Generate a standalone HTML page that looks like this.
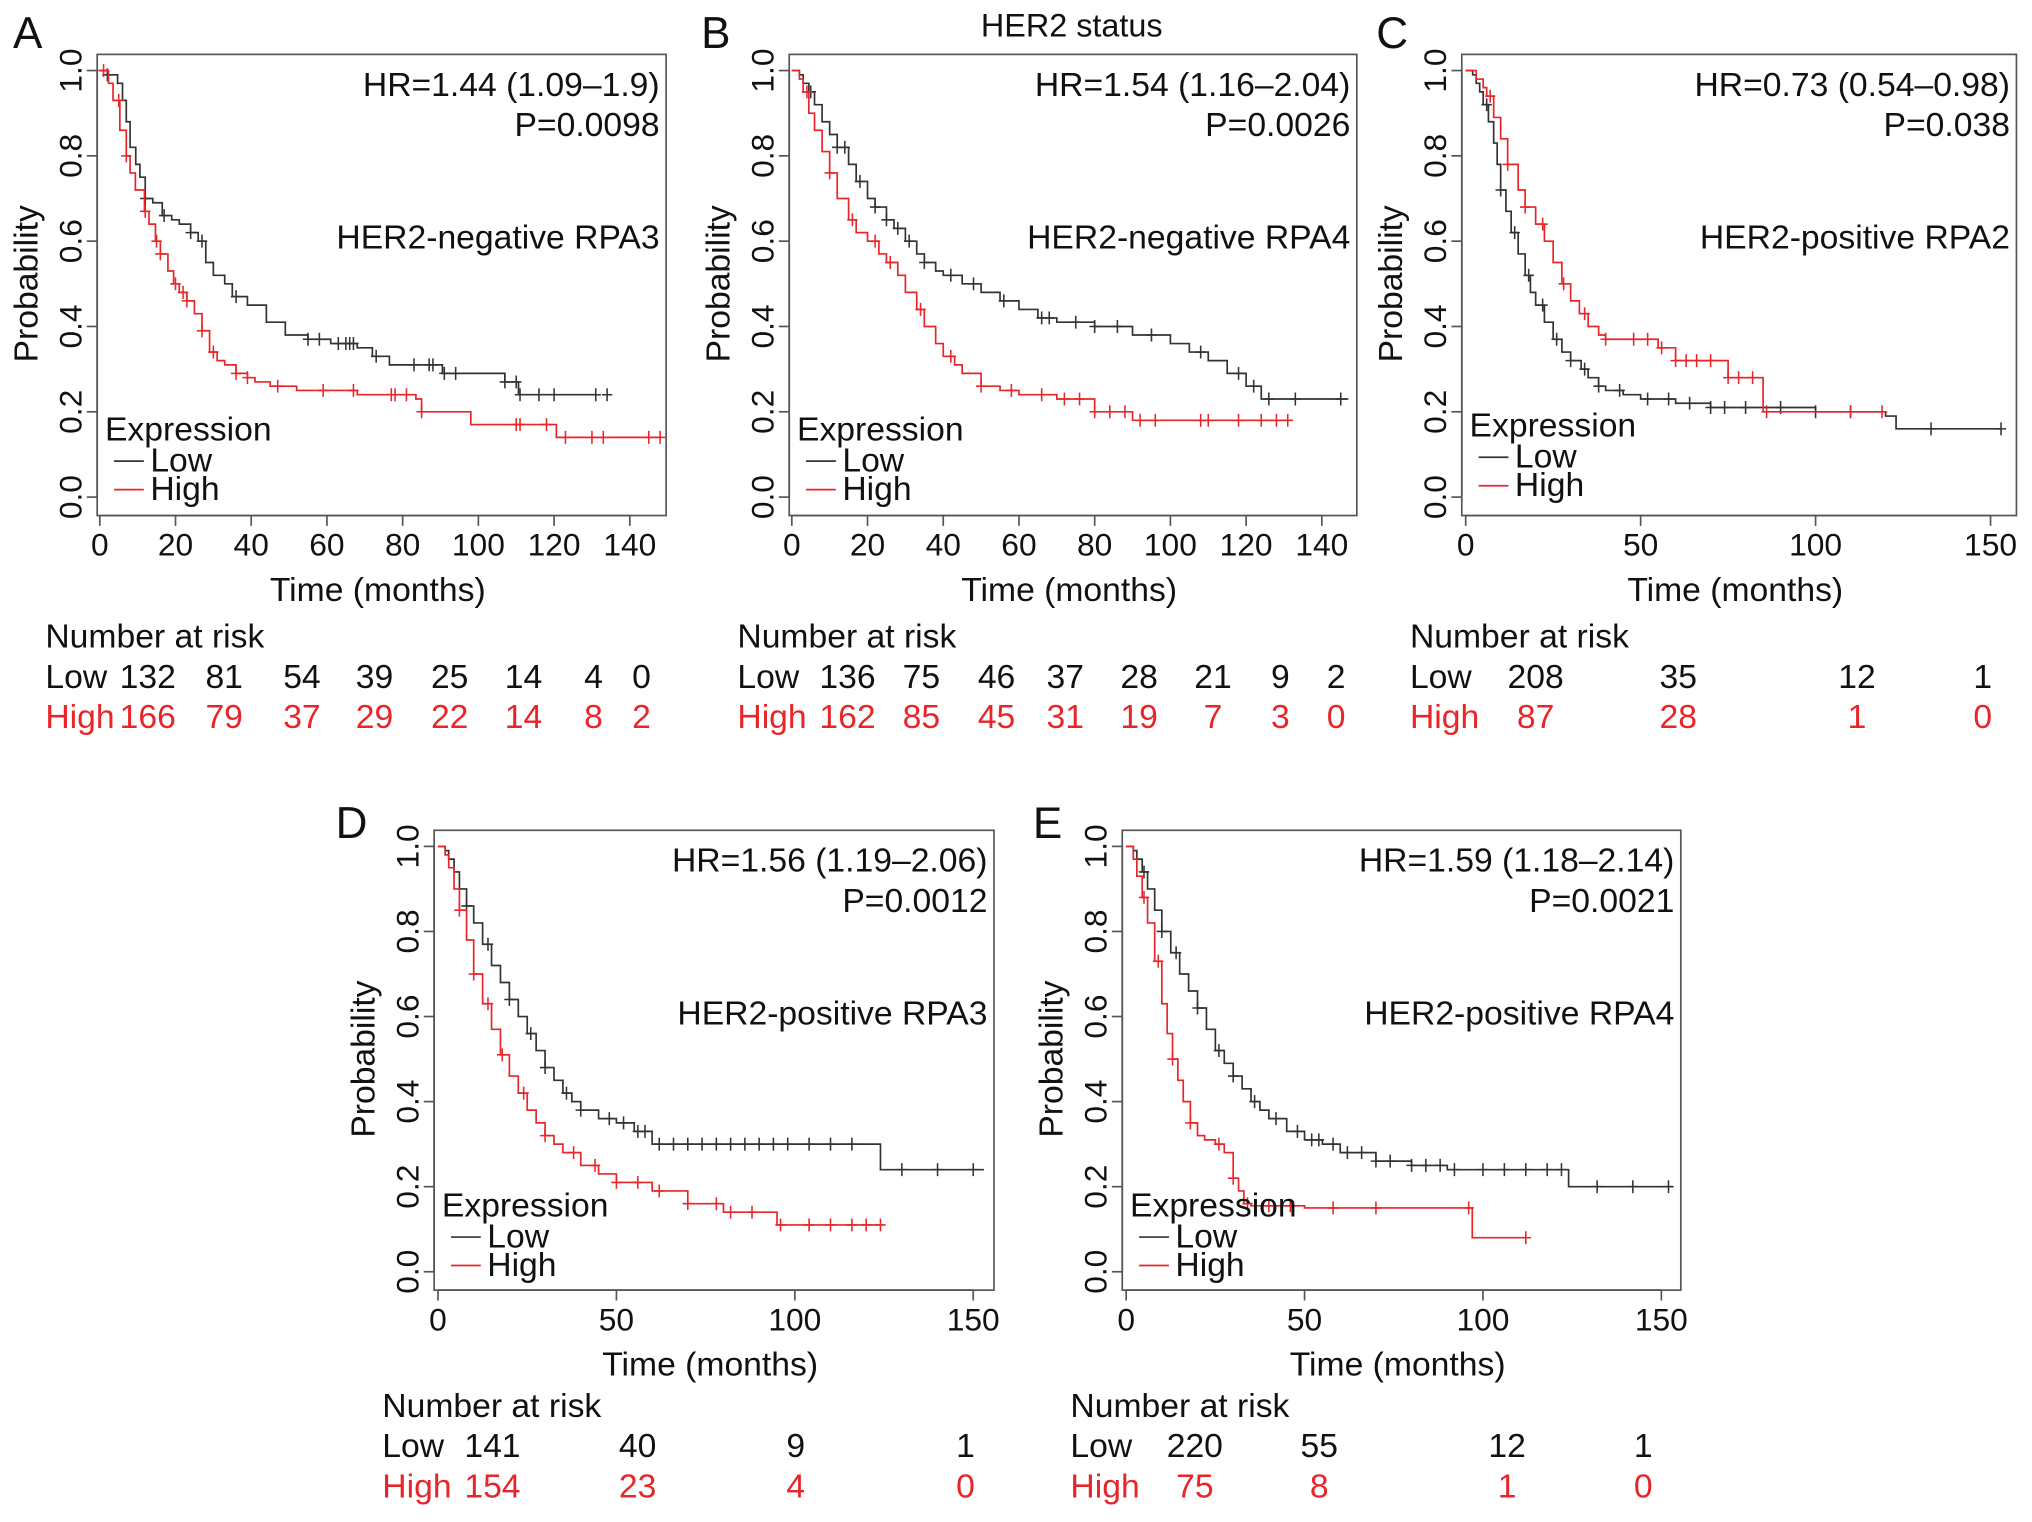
<!DOCTYPE html>
<html><head><meta charset="utf-8"><style>
html,body{margin:0;padding:0;background:#fff}
svg{display:block}
text{font-family:"Liberation Sans",Arial,sans-serif;fill:#111}
</style></head><body>
<svg id="fig" xmlns="http://www.w3.org/2000/svg" width="2032" height="1522" viewBox="0 0 1568 1175" preserveAspectRatio="none">
<text x="827" y="28" font-size="25" text-anchor="middle">HER2 status</text>
</svg>
<script>
// ---- data ----
const aLowT=[0,2,4.7,6,7,8,9.5,10.6,12,14,16.5,19,21,24,26,28,30,33,35,39,44,49,55,61,68,72,76.5,90.5,103.5,107,110.6,131];
const aLowS=[1,.99,.97,.93,.88,.82,.78,.75,.7,.69,.66,.65,.64,.62,.6,.55,.52,.5,.47,.45,.41,.38,.37,.36,.35,.33,.31,.29,.29,.27,.24,.24];
const aHighT=[0,2.3,3.5,5.3,7,8,9.4,11.8,13,14.7,16,18,19.5,21,23,25,27,29,31,33,36,39,41,45,52,68,83.5,85,96.5,98,120,120.6,148];
const aHighS=[1,.97,.93,.86,.8,.76,.72,.67,.64,.6,.57,.53,.5,.48,.46,.43,.39,.34,.32,.31,.29,.28,.27,.26,.25,.24,.23,.2,.2,.17,.17,.14,.14];
const bLowT=[0,2,3,4.5,6,8,10,12,15,17,20,22,25,27,30,33,35,38,40,45,50,55,60,65,70,80,90,100,105,110,115,120,124,147];
const bLowS=[1,.99,.97,.95,.92,.88,.85,.82,.78,.74,.7,.68,.65,.63,.6,.57,.55,.53,.52,.5,.48,.46,.44,.42,.41,.4,.38,.36,.34,.32,.29,.26,.23,.23];
const bHighT=[0,2,3,4.5,6,8,10,12,15,17,20,23,25,28,30,33,35,38,40,43,45,50,55,60,70,80,90,131];
const bHighS=[1,.98,.95,.9,.86,.81,.76,.7,.65,.62,.6,.57,.55,.52,.48,.44,.4,.36,.33,.31,.29,.26,.25,.24,.23,.2,.18,.18];
const cLowT=[0,2,3,4,5,6.5,8,9,10,11.5,13,15,17,18.5,20,22.5,25,27.5,30,33,35,38,40,45,50,60,70,100,120,123,153];
const cLowS=[1,.99,.97,.95,.92,.88,.83,.78,.72,.67,.62,.57,.52,.48,.45,.41,.37,.34,.32,.3,.28,.26,.25,.24,.23,.22,.21,.2,.19,.16,.16];
const cHighT=[0,3,5,6,8,10,12,15,17,20,22.5,25,27.5,30,32.5,35,38,40,50,55,60,75,85,119];
const cHighS=[1,.98,.96,.94,.89,.84,.78,.72,.68,.64,.6,.55,.5,.46,.43,.4,.38,.37,.37,.35,.32,.28,.2,.2];
const dLowT=[0,2,3,4.5,6,8,10,12.5,15,17.5,20,22.5,25,27.5,30,32.5,35,37.5,40,45,50,55,60,123,124,153];
const dLowS=[1,.99,.97,.94,.9,.86,.82,.77,.72,.68,.64,.6,.56,.52,.48,.45,.42,.4,.38,.36,.35,.33,.3,.3,.24,.24];
const dHighT=[0,2,3,4.5,6,8,10,12.5,15,17.5,20,22.5,25,27.5,30,32.5,35,40,45,50,60,70,80,95,124];
const dHighS=[1,.98,.95,.9,.85,.78,.7,.63,.57,.51,.46,.42,.38,.35,.32,.3,.28,.25,.23,.21,.19,.16,.14,.11,.11];
const eLowT=[0,2,3,4.5,6,8,10,12.5,15,17.5,20,22.5,25,27.5,30,32.5,35,37.5,40,45,50,55,60,70,80,90,123,124,153];
const eLowS=[1,.99,.97,.94,.9,.85,.8,.75,.7,.66,.62,.57,.52,.49,.46,.43,.4,.38,.36,.33,.31,.3,.28,.26,.25,.24,.24,.2,.2];
const eHighT=[0,2,3,4.5,6,8,10,11.5,13,14.5,16,18,20,22,25,27.5,30,31.5,33,35,50,96,97,112];
const eHighS=[1,.97,.93,.88,.82,.73,.63,.56,.5,.45,.4,.35,.32,.31,.3,.28,.22,.19,.16,.155,.15,.15,.08,.08];
const censorA_low=[2,12,17,24,27,36,55,58,63,65,66,67,73,83,87,88,91,94,107,110,111,116,120,131,134];
const censorA_high=[1,5,7,12,15,16,20,22,23,27,30,36,39,47,59,67,77,78,81,85,110,111,118,123,130,133,145,148];
const censorB_low=[5,12,14,18,22,25,28,31,35,42,48,56,66,68,75,80,86,95,108,118,122,126,133,145];
const censorB_high=[4,10,16,22,26,34,42,50,58,66,72,76,80,84,88,92,96,108,110,118,124,128,131];
const censorC_low=[6,10,14,18,22,26,30,34,38,44,52,58,64,70,74,80,90,100,110,133,153];
const censorC_high=[7,12,17,22,28,34,40,48,52,56,60,63,66,70,75,78,82,86,110,119];
const censorD_low=[8,14,20,26,30,36,40,48,52,56,58,62,66,70,74,78,82,86,90,94,98,104,110,116,130,140,150];
const censorD_high=[6,10,14,18,24,30,38,44,50,56,62,70,78,82,88,96,104,110,116,120,124];
const censorE_low=[5,10,14,20,26,30,36,42,48,52,54,58,62,66,70,74,80,84,88,92,100,106,112,118,122,132,142,152];
const censorE_high=[5,9,13,18,26,30,34,40,46,58,70,96,112];
const xTicksTop=[0,20,40,60,80,100,120,140];
const xTicks150=[0,50,100,150];
const yTicks=[0,0.2,0.4,0.6,0.8,1.0];
const riskA_low=["132","81","54","39","25","14","4","0"], riskA_high=["166","79","37","29","22","14","8","2"];
const riskB_low=["136","75","46","37","28","21","9","2"], riskB_high=["162","85","45","31","19","7","3","0"];
const riskC_low=["208","35","12","1"], riskC_high=["87","28","1","0"];
const riskD_low=["141","40","9","1"], riskD_high=["154","23","4","0"];
const riskE_low=["220","55","12","1"], riskE_high=["75","8","1","0"];

// ---- layout ----
const panels=[
 {id:'a',L:'A',lx:10,ly:37,bx:75,bw:439,by:42,bh:356,x0:77,xm:140,xmPx:486,ticks:xTicksTop,lt:aLowT,ls:aLowS,ht:aHighT,hs:aHighS,cl:censorA_low,ch:censorA_high,hr:'HR=1.44 (1.09–1.9)',p:'P=0.0098',name:'HER2-negative RPA3',rl:riskA_low,rh:riskA_high,rx:[114,173,233,289,347,404,458,495],ry:492,legY:340},
 {id:'b',L:'B',lx:541,ly:37,bx:609,bw:438,by:42,bh:356,x0:611,xm:140,xmPx:1020,ticks:xTicksTop,lt:bLowT,ls:bLowS,ht:bHighT,hs:bHighS,cl:censorB_low,ch:censorB_high,hr:'HR=1.54 (1.16–2.04)',p:'P=0.0026',name:'HER2-negative RPA4',rl:riskB_low,rh:riskB_high,rx:[654,711,769,822,879,936,988,1031],ry:492,legY:340},
 {id:'c',L:'C',lx:1062,ly:37,bx:1128,bw:428,by:42,bh:356,x0:1131,xm:150,xmPx:1536,ticks:xTicks150,lt:cLowT,ls:cLowS,ht:cHighT,hs:cHighS,cl:censorC_low,ch:censorC_high,hr:'HR=0.73 (0.54–0.98)',p:'P=0.038',name:'HER2-positive RPA2',rl:riskC_low,rh:riskC_high,rx:[1185,1295,1433,1530],ry:492,legY:337},
 {id:'d',L:'D',lx:259,ly:647,bx:335,bw:432,by:641,bh:355,x0:338,xm:150,xmPx:751,ticks:xTicks150,lt:dLowT,ls:dLowS,ht:dHighT,hs:dHighS,cl:censorD_low,ch:censorD_high,hr:'HR=1.56 (1.19–2.06)',p:'P=0.0012',name:'HER2-positive RPA3',rl:riskD_low,rh:riskD_high,rx:[380,492,614,745],ry:1086,legY:939},
 {id:'e',L:'E',lx:797,ly:647,bx:866,bw:431,by:641,bh:355,x0:869,xm:150,xmPx:1282,ticks:xTicks150,lt:eLowT,ls:eLowS,ht:eHighT,hs:eHighS,cl:censorE_low,ch:censorE_high,hr:'HR=1.59 (1.18–2.14)',p:'P=0.0021',name:'HER2-positive RPA4',rl:riskE_low,rh:riskE_high,rx:[922,1018,1163,1268],ry:1086,legY:939}
];
const NS='http://www.w3.org/2000/svg';
const svg=document.getElementById('fig');
function mk(tag,attrs,parent,txt){const e=document.createElementNS(NS,tag);for(const k in attrs)e.setAttribute(k,attrs[k]);if(txt!==undefined)e.textContent=txt;(parent||svg).appendChild(e);return e;}
function stepAt(T,S,t){let s=S[0];for(let i=0;i<T.length;i++){if(T[i]<=t)s=S[i];else break;}return s;}
const FS=26, TFS=24.5;
panels.forEach(P=>{
 const g=mk('g',{});
 
 
 const y1=P.by+P.bh*0.035, y0=P.by+P.bh*0.96;
 const X=t=>P.x0+(t/P.xm)*(P.xmPx-P.x0);
 const Y=s=>y0-s*(y0-y1);
 const box=mk('rect',{x:P.bx,y:P.by,width:P.bw,height:P.bh,fill:'none',stroke:'#555','stroke-width':1.3},g);
 
 
 const lt=mk('text',{x:P.lx,y:P.ly,'font-size':34},g,P.L);
 
 
 const xa=mk('g',{},g);
 
 
 const ab=P.by+P.bh;
 mk('line',{x1:X(P.ticks[0]),x2:X(P.ticks[P.ticks.length-1]),y1:ab,y2:ab,stroke:'#555','stroke-width':1.3},xa);
 P.ticks.forEach(t=>{mk('line',{x1:X(t),x2:X(t),y1:ab,y2:ab+8,stroke:'#555','stroke-width':1.3},xa);
  const tl=mk('text',{x:X(t),y:ab+31,'font-size':TFS,'text-anchor':'middle'},xa,String(t));
  
  });
 const xt=mk('text',{x:P.bx+P.bw/2-3,y:ab+66,'font-size':FS,'text-anchor':'middle'},g,'Time (months)');
 
 
 const ya=mk('g',{},g);
 
 
 mk('line',{x1:P.bx,x2:P.bx,y1:Y(0),y2:Y(1),stroke:'#555','stroke-width':1.3},ya);
 yTicks.forEach(v=>{const yy=Y(v);mk('line',{x1:P.bx-8,x2:P.bx,y1:yy,y2:yy,stroke:'#555','stroke-width':1.3},ya);
  const tl=mk('text',{x:P.bx-12,y:yy,'font-size':TFS,'text-anchor':'middle',transform:`rotate(-90 ${P.bx-12} ${yy})`},ya,v.toFixed(1));
  
  });
 const yc=(Y(0)+Y(1))/2;
 const yt=mk('text',{x:P.bx-46,y:yc,'font-size':FS,'text-anchor':'middle',transform:`rotate(-90 ${P.bx-46} ${yc})`},g,'Probability');
 
 
 [[P.lt,P.ls,P.cl,'#333','low'],[P.ht,P.hs,P.ch,'#e8262a','high']].forEach(([T,S,C,col,nm])=>{
  let d=`M${X(T[0])},${Y(S[0])}`;
  for(let i=1;i<T.length;i++){d+=` H${X(T[i])} V${Y(S[i])}`;}
  const pth=mk('path',{d:d,fill:'none',stroke:col,'stroke-width':1.3},g);
  
  
  C.forEach(t=>{const cx=X(t),cy=Y(stepAt(T,S,t));
   const cm=mk('path',{d:`M${cx-4},${cy}H${cx+4}M${cx},${cy-5}V${cy+5}`,stroke:col,'stroke-width':1.2},g);
   
   });
 });
 const tx=P.bx+P.bw-5;
 const h1=mk('text',{x:tx,y:P.by+32,'font-size':FS,'text-anchor':'end'},g,P.hr);
 
 
 const h2=mk('text',{x:tx,y:P.by+63,'font-size':FS,'text-anchor':'end'},g,P.p);
 
 
 const h3=mk('text',{x:tx,y:P.by+150,'font-size':FS,'text-anchor':'end'},g,P.name);
 
 
 const lg=mk('g',{},g);
 
 
 const lx=P.bx+6, ly=P.legY;
 mk('text',{x:lx,y:ly,'font-size':FS},lg,'Expression');
 mk('line',{x1:lx+7,x2:lx+30,y1:ly+16,y2:ly+16,stroke:'#333','stroke-width':1.3},lg);
 mk('text',{x:lx+35,y:ly+24,'font-size':FS},lg,'Low');
 mk('line',{x1:lx+7,x2:lx+30,y1:ly+38,y2:ly+38,stroke:'#e8262a','stroke-width':1.3},lg);
 mk('text',{x:lx+35,y:ly+46,'font-size':FS},lg,'High');
 const rt=mk('g',{},g);
 
 
 const rx0=P.bx-40;
 mk('text',{x:rx0,y:P.ry+8,'font-size':FS},rt,'Number at risk');
 mk('text',{x:rx0,y:P.ry+39,'font-size':FS},rt,'Low');
 mk('text',{x:rx0,y:P.ry+70,'font-size':FS,style:'fill:#e8262a'},rt,'High');
 P.rl.forEach((v,i)=>{mk('text',{x:P.rx[i],y:P.ry+39,'font-size':FS,'text-anchor':'middle'},rt,v);});
 P.rh.forEach((v,i)=>{mk('text',{x:P.rx[i],y:P.ry+70,'font-size':FS,'text-anchor':'middle',style:'fill:#e8262a'},rt,v);});
});
</script>
</body></html>
